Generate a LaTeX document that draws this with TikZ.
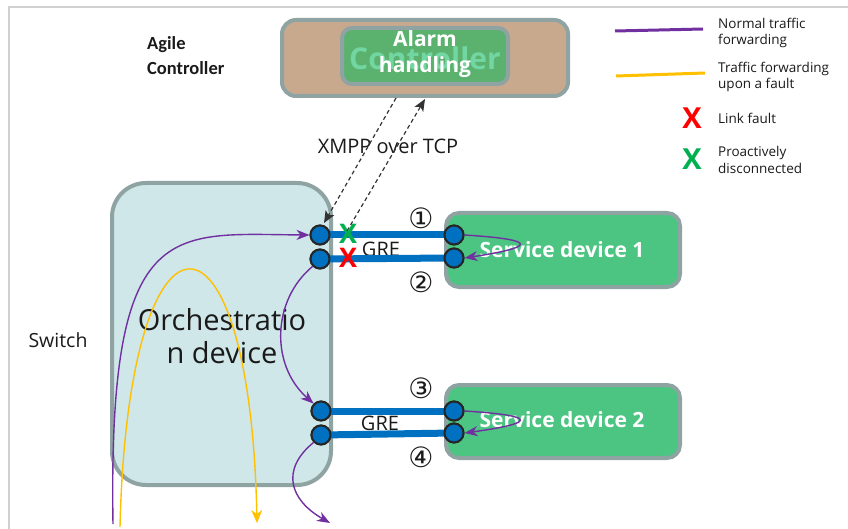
\documentclass[tikz,border=0pt]{standalone}
\usepackage{fontspec}
\setmainfont{Open Sans}
\newfontfamily\carl{Carlito}
\newfontfamily\dvs{DejaVu Sans}
\usetikzlibrary{arrows.meta}
\definecolor{framecol}{HTML}{D0D0D0}
\definecolor{edgecol}{HTML}{8FA3A3}
\definecolor{tancol}{HTML}{C9A98E}
\definecolor{alarmcol}{HTML}{5BB26F}
\definecolor{ctrltxt}{HTML}{72D6A2}
\definecolor{orchcol}{HTML}{CFE7E9}
\definecolor{svccol}{HTML}{4CC583}
\definecolor{portblue}{HTML}{0070C0}
\definecolor{purp}{HTML}{7030A0}
\definecolor{yel}{HTML}{FFC000}
\definecolor{xred}{HTML}{FF0000}
\definecolor{xgreen}{HTML}{00B050}
\definecolor{txt}{HTML}{1A1A1A}
\newcommand{\fsz}[2]{\fontsize{#1}{#2}\selectfont}
\begin{document}
\begin{tikzpicture}[x=1pt,y=-1pt,
  rbox/.style={draw=edgecol, line width=4pt, inner sep=0pt},
  port/.style={circle, draw=black!85, line width=2pt, fill=portblue, minimum size=19pt, inner sep=0pt},
  linkbar/.style={portblue, line width=7pt},
  flowp/.style={purp, line width=1.4pt, -{Stealth[length=13pt,width=10pt,inset=4pt]}},
  flowy/.style={yel, line width=1.4pt, -{Stealth[length=13pt,width=11pt,inset=4pt]}},
  dashline/.style={black!80, line width=1.2pt, dash pattern=on 4pt off 3pt, -{Stealth[length=12pt,width=10pt,inset=3pt]}},
  lbl/.style={text=txt, inner sep=0pt},
  legtxt/.style={text=txt, inner sep=0pt, anchor=west, align=left, font=\fsz{13.5}{16.5}},
  xmark/.style={inner sep=0pt, font=\bfseries\fsz{27}{27}},
  cnum/.style={inner sep=0pt, text=txt, font=\dvs\fsz{28}{28}}
]
\useasboundingbox (0,0) rectangle (848,529);
% frame
\draw[framecol, line width=2pt] (9,529) -- (9,7) -- (848,7);

% controller
\node[rbox, fill=tancol, rounded corners=14pt, minimum width=286pt, minimum height=76pt] (ctrl) at (425,58) {};
\node[rbox, fill=alarmcol, rounded corners=10pt, minimum width=166pt, minimum height=56pt] (alarm) at (425,56) {};
\node[lbl, text=ctrltxt, font=\bfseries\fsz{30}{30}] (ctrllbl) at (425,58) {Controller};
\node[lbl, text=white, font=\bfseries\fsz{21}{26}, align=center] (alarmlbl) at (425,54) {Alarm\\handling};
\node[lbl, anchor=west, align=left, font=\carl\bfseries\fsz{18.5}{25}] (agile) at (147,56) {Agile\\Controller};

% orchestration device
\node[rbox, fill=orchcol, rounded corners=34pt, minimum width=219pt, minimum height=302pt] (orch) at (221.5,334) {};
\node[lbl, align=center, font=\fsz{29}{33}] (orchlbl) at (222,336) {Orchestratio\\n device};
\node[lbl, font=\fsz{19.5}{20}] (switch) at (58,340) {Switch};

% service devices
\node[rbox, fill=svccol, rounded corners=13pt, minimum width=234pt, minimum height=74pt] (svc1) at (563,250) {};
\node[rbox, fill=svccol, rounded corners=13pt, minimum width=234pt, minimum height=73pt] (svc2) at (563,421.5) {};
\node[lbl, text=white, font=\bfseries\fsz{21}{21}] (svc1lbl) at (562,250) {Service device 1};
\node[lbl, text=white, font=\bfseries\fsz{21}{21}] (svc2lbl) at (562,420) {Service device 2};

% XMPP label
\node[lbl, font=\fsz{20}{20}] (xmpp) at (388,146) {XMPP over TCP};

% GRE labels
\node[lbl, font=\fsz{20}{20}] (gre1) at (381,249) {GRE};
\node[lbl, font=\fsz{20}{20}] (gre2) at (380,423) {GRE};

% ports
\node[port] (o1) at (320,235) {};
\node[port] (o2) at (320,259) {};
\node[port] (s1a) at (454,235) {};
\node[port] (s1b) at (454,258) {};
\node[port] (o3) at (321,411) {};
\node[port] (o4) at (321,435) {};
\node[port] (s2a) at (454,411) {};
\node[port] (s2b) at (454,433) {};

% link bars
\draw[linkbar] (o1.center) -- (s1a.center);
\draw[linkbar] (o2.center) -- (s1b.center);
\draw[linkbar] (o3.center) -- (s2a.center);
\draw[linkbar] (o4.center) -- (s2b.center);
% ports again on top of the bars
\foreach \p in {o1,o2,s1a,s1b,o3,o4,s2a,s2b}{
  \draw[draw=black!85, line width=2pt, fill=portblue] (\p.center) circle (9.5pt);
}

% circled numbers
\node[cnum] (n1) at (421,218) {①};
\node[cnum] (n2) at (421,282) {②};
\node[cnum] (n3) at (421,388) {③};
\node[cnum] (n4) at (421,457) {④};

% flows
\coordinate (ystart) at (120,527);
\coordinate (yend) at (257,523);
\draw[flowy] (ystart) .. controls (128,185) and (250,185) .. (yend);

\coordinate (p1start) at (113,524);
\draw[flowp] (p1start) .. controls (108,215) and (170,234) .. (o1.west);
\draw[flowp] (o2.south west) .. controls (272,300) and (270,365) .. (o3.north west);
\coordinate (p3end) at (330,523);
\draw[flowp] (o4.south west) .. controls (280,470) and (290,500) .. (p3end);
\draw[flowp] (s1a.east) .. controls (545,240) and (530,248) .. (s1b.east);
\draw[flowp] (s2a.east) .. controls (545,416) and (530,424) .. (s2b.east);

% fault marks
\node[xmark, text=xgreen] (xg) at (348,234) {X};
\node[xmark, text=xred] (xr) at (348,258) {X};

% dashed control links
\coordinate (d1) at (396,98);
\coordinate (d1end) at (324,223);
\coordinate (d2) at (347,231);
\coordinate (d2end) at (425,99);
\draw[dashline] (d1) -- (d1end);
\draw[dashline] (d2) -- (d2end);

% legend
\coordinate (lp1) at (615,31);
\coordinate (lp2) at (703,29);
\draw[purp, line width=3pt] (lp1) -- (lp2);
\coordinate (ly1) at (616,76);
\coordinate (ly2) at (705,73);
\draw[yel, line width=3pt] (ly1) -- (ly2);
\node[legtxt] (leg1) at (718,33) {Normal traffic\\forwarding};
\node[legtxt] (leg2) at (718,77) {Traffic forwarding\\upon a fault};
\node[xmark, text=xred, font=\bfseries\fsz{29}{29}] (legxr) at (692,118) {X};
\node[legtxt] (leg3) at (718,118) {Link fault};
\node[xmark, text=xgreen, font=\bfseries\fsz{29}{29}] (legxg) at (692,159) {X};
\node[legtxt] (leg4) at (718,160) {Proactively\\disconnected};
\end{tikzpicture}
\end{document}
